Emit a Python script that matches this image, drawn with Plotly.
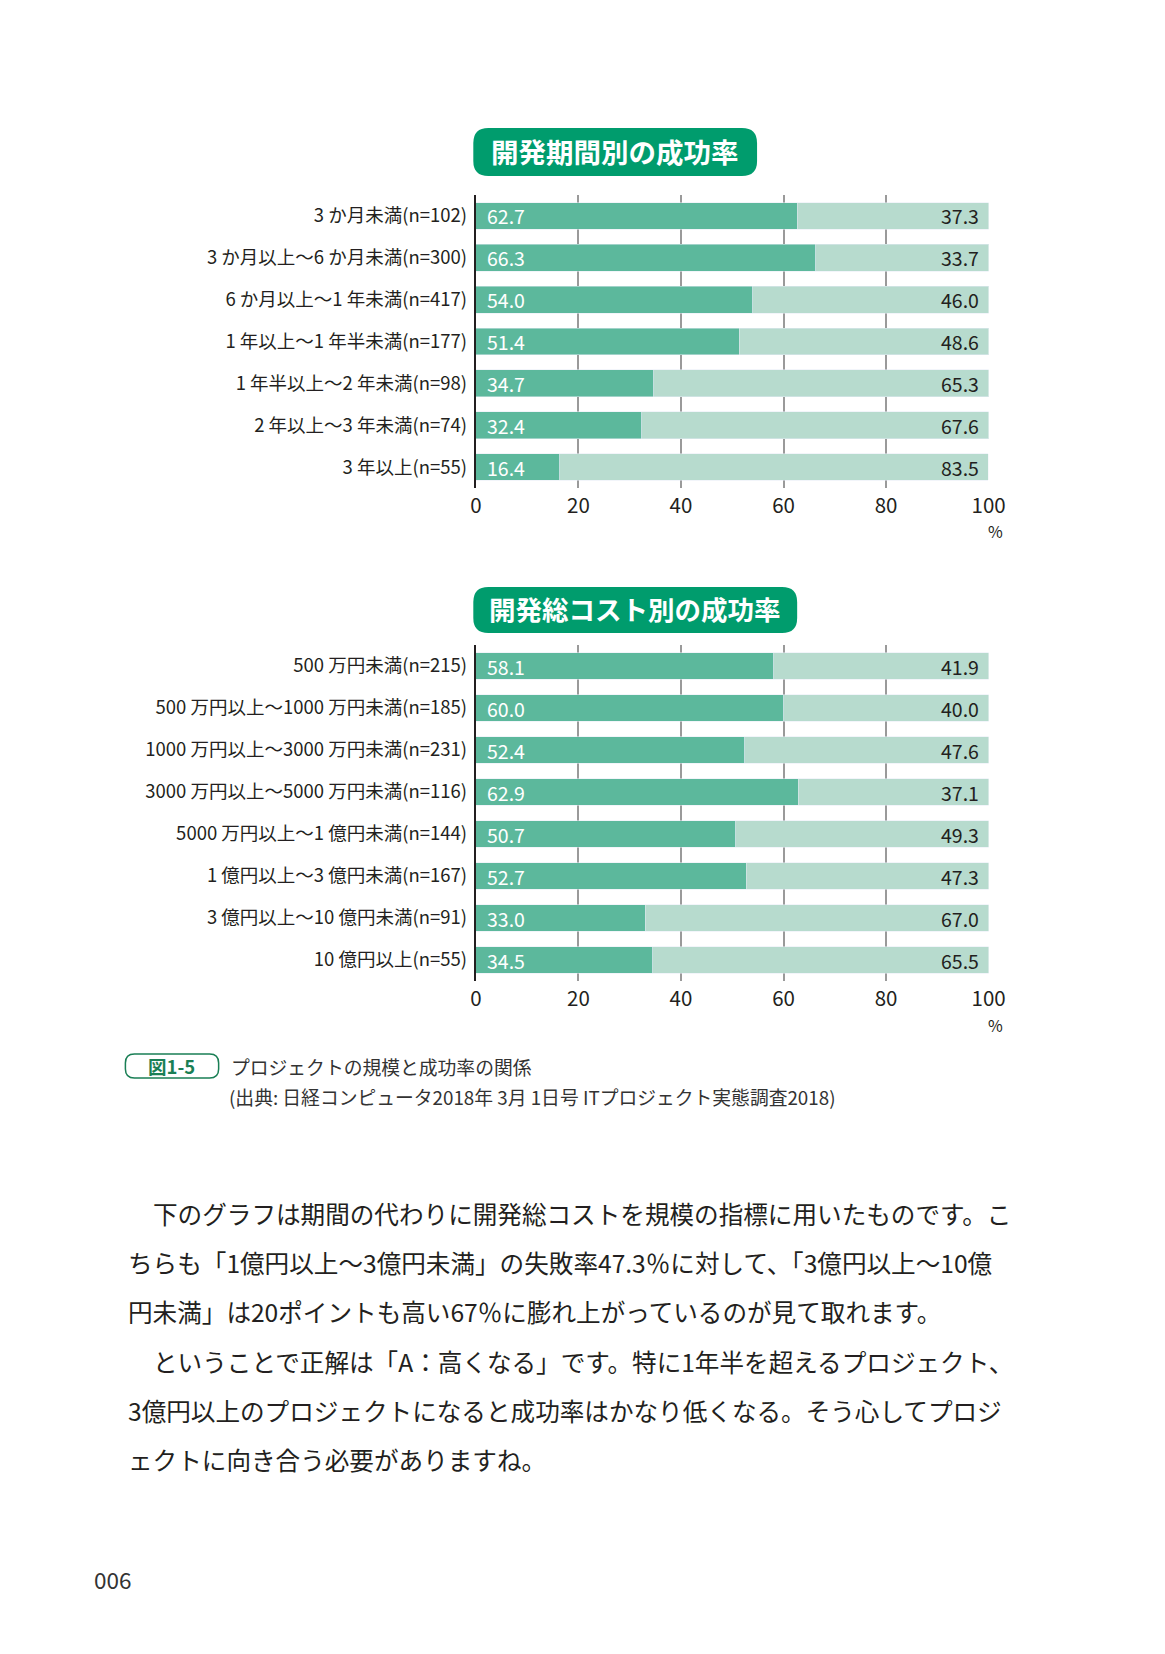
import plotly.graph_objects as go

# ページ(1165x1654)の中の位置。bodyの余白8pxの分を引き、スクロールバーが出ないよう高さに余裕を残す
OFF = 8
W, H = 1165 - 2 * OFF, 1620
# 横方向の見え方のずれを補正(前回の出力との比較から)
SX, BX = 0.947 / 0.9256, 8.6 / 0.9256

# データ
period_labels = ['3 か月未満(n=102)', '3 か月以上〜6 か月未満(n=300)', '6 か月以上〜1 年未満(n=417)',
                 '1 年以上〜1 年半未満(n=177)', '1 年半以上〜2 年未満(n=98)', '2 年以上〜3 年未満(n=74)',
                 '3 年以上(n=55)']
period_success = [62.7, 66.3, 54.0, 51.4, 34.7, 32.4, 16.4]
period_failure = [37.3, 33.7, 46.0, 48.6, 65.3, 67.6, 83.5]

cost_labels = ['500 万円未満(n=215)', '500 万円以上〜1000 万円未満(n=185)', '1000 万円以上〜3000 万円未満(n=231)',
               '3000 万円以上〜5000 万円未満(n=116)', '5000 万円以上〜1 億円未満(n=144)',
               '1 億円以上〜3 億円未満(n=167)', '3 億円以上〜10 億円未満(n=91)', '10 億円以上(n=55)']
cost_success = [58.1, 60.0, 52.4, 62.9, 50.7, 52.7, 33.0, 34.5]
cost_failure = [41.9, 40.0, 47.6, 37.1, 49.3, 47.3, 67.0, 65.5]

x_ticks = [0, 20, 40, 60, 80, 100]

title1 = '開発期間別の成功率'
title2 = '開発総コスト別の成功率'
fig_no = '図1-5'
caption1 = 'プロジェクトの規模と成功率の関係'
caption2 = '(出典: 日経コンピュータ2018年 3月 1日号 ITプロジェクト実態調査2018)'
body_lines = [
    '下のグラフは期間の代わりに開発総コストを規模の指標に用いたものです。こ',
    'ちらも「1億円以上〜3億円未満」の失敗率47.3％に対して、「3億円以上〜10億',
    '円未満」は20ポイントも高い67％に膨れ上がっているのが見て取れます。',
    'ということで正解は「A：高くなる」です。特に1年半を超えるプロジェクト、',
    '3億円以上のプロジェクトになると成功率はかなり低くなる。そう心してプロジ',
    'ェクトに向き合う必要がありますね。',
]
body_indent = [True, False, False, True, False, False]
page_no = '006'

DARK = '#5cb89c'
LIGHT = '#b7dbce'
BOX = '#009c6d'
INK = '#231f20'
NARROW = 'Liberation Sans Narrow, Noto Sans CJK JP, sans-serif'
JP = 'Noto Sans CJK JP, sans-serif'


def px(x):
    return (SX * x - BX - OFF) / W


def py(y):
    return 1 - (y - OFF) / H


def round_box(x0, y0, x1, y1, r):
    # ピクセル座標で角丸の四角 -> paper座標のpath
    pts = [('M', x0 + r, y0), ('L', x1 - r, y0), ('Q', x1, y0, x1, y0 + r), ('L', x1, y1 - r),
           ('Q', x1, y1, x1 - r, y1), ('L', x0 + r, y1), ('Q', x0, y1, x0, y1 - r),
           ('L', x0, y0 + r), ('Q', x0, y0, x0 + r, y0)]
    s = ''
    for p in pts:
        s += p[0]
        vals = p[1:]
        for i in range(0, len(vals), 2):
            s += ' %.5f,%.5f ' % (px(vals[i]), py(vals[i + 1]))
    return s + 'Z'


def text(x, y, t, size, color, family=JP, xanchor='center'):
    return dict(x=px(x), y=py(y), xref='paper', yref='paper', text=t, showarrow=False,
                xanchor=xanchor, yanchor='middle', font=dict(family=family, size=size, color=color))


fig = go.Figure()

charts = [
    (period_labels, period_success, period_failure, 'x', 'y', [py(488), py(195)]),
    (cost_labels, cost_success, cost_failure, 'x2', 'y2', [py(981), py(645)]),
]

annotations = []
for labels, succ, fail, xa, ya, ydom in charts:
    fig.add_trace(go.Bar(y=labels, x=succ, orientation='h', marker_color=DARK,
                         xaxis=xa, yaxis=ya, hoverinfo='skip'))
    fig.add_trace(go.Bar(y=labels, x=fail, orientation='h', marker_color=LIGHT,
                         xaxis=xa, yaxis=ya, hoverinfo='skip'))
    for i in range(len(labels)):
        annotations.append(dict(x=0, y=i, xref=xa, yref=ya, text='%.1f' % succ[i], showarrow=False,
                                xanchor='left', yanchor='middle', xshift=9,
                                font=dict(family=NARROW, size=19.5, color='white')))
        annotations.append(dict(x=100, y=i, xref=xa, yref=ya, text='%.1f' % fail[i], showarrow=False,
                                xanchor='right', yanchor='middle', xshift=-8,
                                font=dict(family=NARROW, size=19.5, color=INK)))

axis_x = dict(range=[0, 100], tickvals=x_ticks, showgrid=True, gridcolor='#9a9a9a', gridwidth=1.5,
              zeroline=False, showline=False, ticks='', ticklabelstandoff=3,
              tickfont=dict(family=NARROW, size=20.5, color=INK), domain=[px(477.5), px(989)])
axis_y = dict(type='category', showgrid=False, zeroline=False, showline=True, linecolor=INK, linewidth=2,
              ticks='', ticklabelstandoff=3, tickfont=dict(family=NARROW, size=18.5, color=INK))

fig.update_layout(
    xaxis=dict(axis_x, anchor='y'),
    yaxis=dict(axis_y, anchor='x', domain=charts[0][5], range=[len(period_labels) - 0.5, -0.5]),
    xaxis2=dict(axis_x, anchor='y2'),
    yaxis2=dict(axis_y, anchor='x2', domain=charts[1][5], range=[len(cost_labels) - 0.5, -0.5]),
    barmode='stack', bargap=0.36, showlegend=False,
    width=W, height=H, margin=dict(l=0, r=0, t=0, b=0),
    paper_bgcolor='white', plot_bgcolor='white',
)

# % の単位(目盛りの100のすぐ下)
annotations.append(dict(x=100, y=py(531), xref='x', yref='paper', text='%', showarrow=False,
                        xshift=7, yanchor='middle', font=dict(family=NARROW, size=16, color=INK)))
annotations.append(dict(x=100, y=py(1025), xref='x2', yref='paper', text='%', showarrow=False,
                        xshift=7, yanchor='middle', font=dict(family=NARROW, size=16, color=INK)))

# タイトルボックス
shapes = [
    dict(type='path', xref='paper', yref='paper', path=round_box(475, 128, 758, 176, 15),
         fillcolor=BOX, line=dict(width=0)),
    dict(type='path', xref='paper', yref='paper', path=round_box(475, 587, 798, 633, 15),
         fillcolor=BOX, line=dict(width=0)),
    dict(type='path', xref='paper', yref='paper', path=round_box(128, 1054, 221, 1078, 9),
         fillcolor='white', line=dict(width=1.5, color='#1a7f55')),
]
annotations.append(text(616, 151, '<b>' + title1 + '</b>', 27.5, 'white'))
annotations.append(text(636, 608, '<b>' + title2 + '</b>', 26.5, 'white'))

# キャプション
annotations.append(text(174, 1066, '<b>' + fig_no + '</b>', 18.5, '#1a7f55', NARROW))
annotations.append(text(231, 1066, caption1, 18.8, '#333333', NARROW, 'left'))
annotations.append(text(229, 1096, caption2, 18.8, '#333333', NARROW, 'left'))

# 本文
for i, line in enumerate(body_lines):
    x0 = 154 if body_indent[i] else 129
    annotations.append(text(x0, 1213 + i * 49.2, line, 24.6, INK, JP, 'left'))

annotations.append(text(95, 1579, page_no, 22.5, '#333333', JP, 'left'))

fig.update_layout(annotations=annotations, shapes=shapes)
fig.write_html('out.html')
